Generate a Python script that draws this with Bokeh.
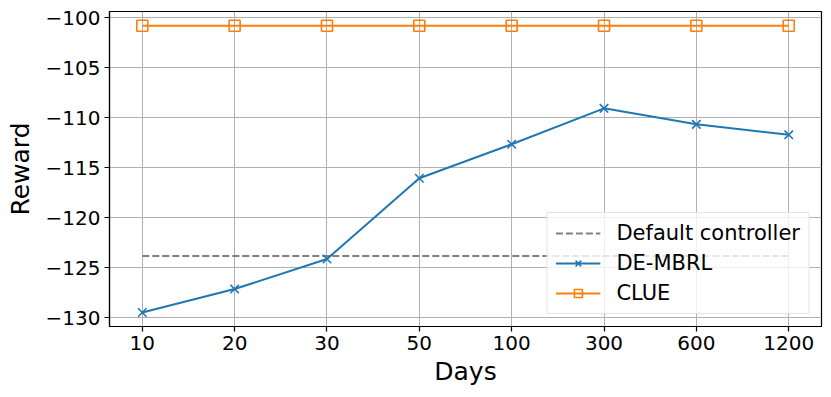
from bokeh.plotting import figure
from bokeh.models import Range1d, FixedTicker, Legend, LegendItem
from bokeh.embed import file_html
from bokeh.resources import INLINE

days = ["10", "20", "30", "50", "100", "300", "600", "1200"]
de_mbrl = [-129.5, -127.15, -124.14, -116.05, -112.65, -109.05, -110.65, -111.7]
clue = [-100.78] * 8
default_controller = -123.84
y_ticks = [-130, -125, -120, -115, -110, -105, -100]

xs = list(range(len(days)))

p = figure(width=831, height=397, output_backend="svg", toolbar_location=None,
           x_range=Range1d(-0.355, len(days) - 1 + 0.355),
           y_range=Range1d(-130.9, -99.35),
           min_border_left=109, min_border_right=10, min_border_top=11, min_border_bottom=71)

FONT = "DejaVu Sans"

dflt = p.line([xs[0], xs[-1]], [default_controller, default_controller],
              line_color="#808080", line_width=2, line_dash="7 3")
l1 = p.line(xs, de_mbrl, line_color="#1f77b4", line_width=2)
s1 = p.scatter(xs, de_mbrl, marker="x", size=12, line_color="#1f77b4", line_width=1.6)
l2 = p.line(xs, clue, line_color="#ff7f0e", line_width=2)
s2 = p.scatter(xs, clue, marker="square", size=11, line_color="#ff7f0e",
               fill_color=None, line_width=1.6)

p.xaxis.ticker = FixedTicker(ticks=xs)
p.xaxis.major_label_overrides = {i: d for i, d in enumerate(days)}
p.yaxis.ticker = FixedTicker(ticks=y_ticks)
p.yaxis.major_label_overrides = {t: str(t).replace("-", "\u2212") for t in y_ticks}

for ax in (p.xaxis[0], p.yaxis[0]):
    ax.major_label_text_font = FONT
    ax.major_label_text_font_size = "20px"
    ax.major_label_text_color = "black"
    ax.axis_label_text_font = FONT
    ax.axis_label_text_font_size = "25px"
    ax.axis_label_text_font_style = "normal"
    ax.axis_label_text_color = "black"
    ax.axis_line_color = "black"
    ax.axis_line_width = 1.2
    ax.major_tick_line_color = "black"
    ax.major_tick_line_width = 1.2
    ax.major_tick_out = 5
    ax.major_tick_in = 0
    ax.minor_tick_line_color = None
    ax.major_label_standoff = 4

p.xaxis.axis_label = "Days"
p.yaxis.axis_label = "Reward"
p.xaxis.axis_label_standoff = 4
p.yaxis.axis_label_standoff = 8

p.grid.grid_line_color = "#b0b0b0"
p.grid.grid_line_width = 1
p.outline_line_color = "black"
p.outline_line_width = 1.2
p.outline_line_alpha = 1

legend = Legend(items=[
    LegendItem(label="Default controller", renderers=[dflt]),
    LegendItem(label="DE-MBRL", renderers=[l1, s1]),
    LegendItem(label="CLUE", renderers=[l2, s2]),
], location="bottom_right")
legend.label_text_font = FONT
legend.label_text_font_size = "21px"
legend.label_text_color = "black"
legend.glyph_width = 45
legend.glyph_height = 20
legend.label_height = 20
legend.spacing = 6
legend.padding = 8
legend.margin = 12
legend.label_standoff = 16
legend.border_line_color = "#cccccc"
legend.border_line_width = 1
legend.background_fill_alpha = 0.8
p.add_layout(legend, "center")

open("out.html", "w").write(file_html(p, INLINE))
